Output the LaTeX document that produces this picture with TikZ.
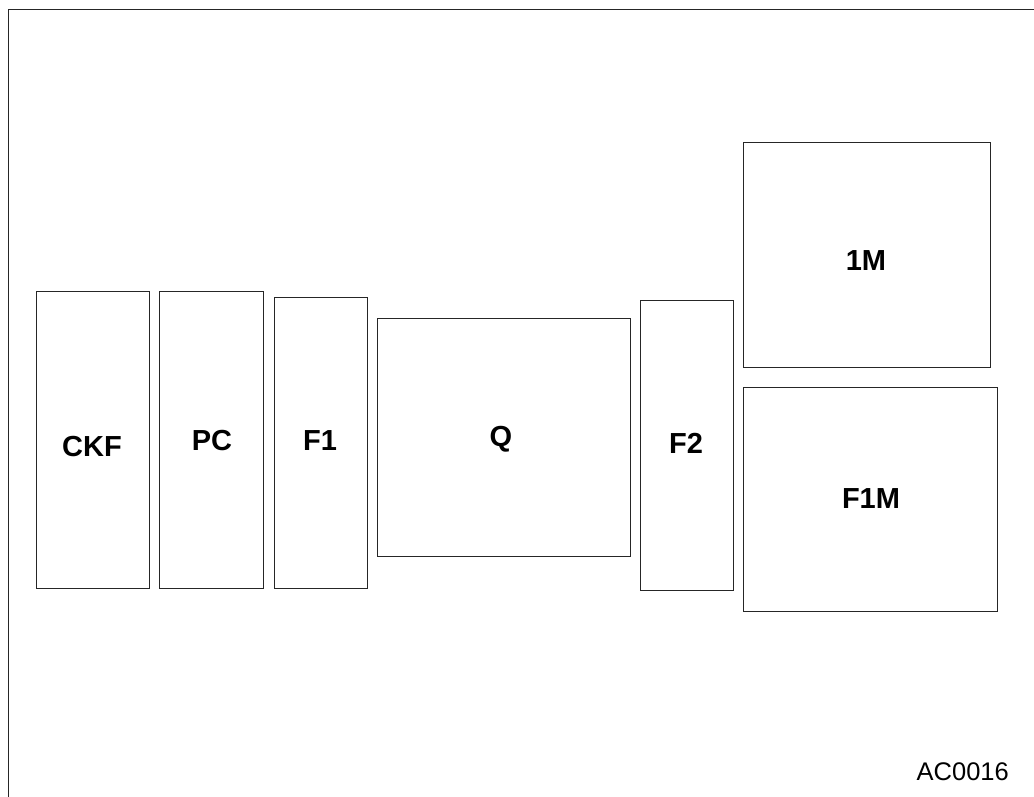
\documentclass[tikz,border=0pt]{standalone}
\usepackage{fontspec}
\setmainfont{Liberation Sans}
\begin{document}
\begin{tikzpicture}[x=1pt,y=-1pt,
  box/.style={draw=black!85,line width=1pt},
  lbl/.style={font=\fontsize{29}{31}\selectfont\bfseries,anchor=base,inner sep=0pt},
  tag/.style={font=\fontsize{25.5}{27}\selectfont,anchor=base east,inner sep=0pt}]
\useasboundingbox (0,0) rectangle (1034,797);
\coordinate (tl) at (8,10);
\coordinate (tr) at (1034,10);
\coordinate (bl) at (8,797);
\draw[black!85,line width=1pt] (bl) -- (tl) -- (tr);
\draw[box] (36,291) rectangle (149,588) coordinate (ckfbox);
\draw[box] (159,291) rectangle (263,588) coordinate (pcbox);
\draw[box] (274,297) rectangle (367,588) coordinate (fonebox);
\draw[box] (377,318) rectangle (630,556) coordinate (qbox);
\draw[box] (640,300) rectangle (733,590) coordinate (ftwobox);
\draw[box] (743,143) rectangle (990,367) coordinate (onembox);
\draw[box] (743,387) rectangle (997,611) coordinate (fonembox);
\node[lbl] (ckf) at (92,456) {CKF};
\node[lbl] (pc) at (212,450.5) {PC};
\node[lbl] (f1) at (320,450.5) {F1};
\node[lbl] (q) at (501,446.5) {Q};
\node[lbl] (f2) at (686,453.5) {F2};
\node[lbl] (m1) at (866,270) {1M};
\node[lbl] (f1m) at (871,508) {F1M};
\node[tag] (ac) at (1009,780) {AC0016};
\end{tikzpicture}
\end{document}
